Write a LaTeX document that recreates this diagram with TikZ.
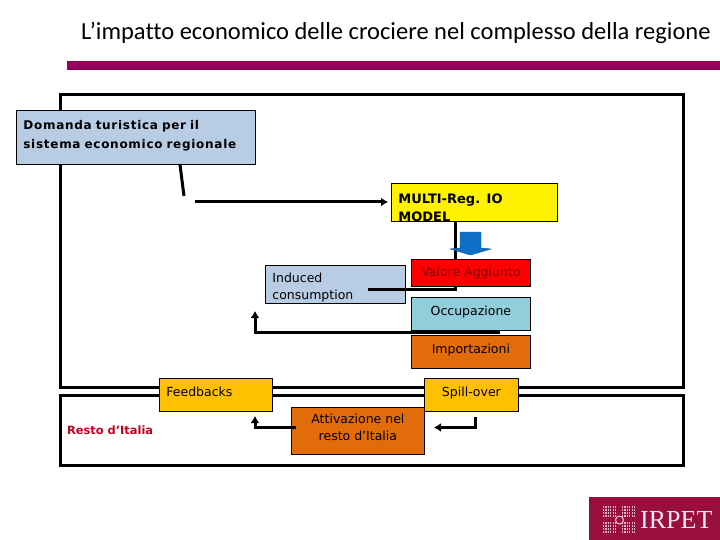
\documentclass[tikz,border=0pt]{standalone}
\usepackage{fontspec}
\setmainfont{DejaVu Sans}
\newfontfamily\titlefont[Ligatures=NoCommon]{Carlito}
\newfontfamily\logofont{Liberation Serif}
\usetikzlibrary{arrows.meta}
\definecolor{barcol}{HTML}{94005E}
\definecolor{logocol}{HTML}{980F3F}
\definecolor{paleblue}{HTML}{B8CCE4}
\definecolor{aquabox}{HTML}{92CDDC}
\definecolor{orangebox}{HTML}{E36C0A}
\definecolor{amberbox}{HTML}{FFC000}
\definecolor{arrowblue}{HTML}{0F6FC6}
\definecolor{restred}{HTML}{C00020}
\newcommand{\lift}[1]{\rule[-#1pt]{0pt}{#1pt}}
\tikzset{
  boxnode/.style={draw=black,line width=0.8pt,anchor=north west,inner sep=0pt,font=\fontsize{12.5}{17}\selectfont,align=center},
  leftbox/.style={boxnode,align=left,inner xsep=7pt},
  framebox/.style={draw=black,line width=3pt},
  link/.style={line width=3pt,draw=black},
  linkarrow/.style={link,-{Latex[length=7pt,width=9pt]}}
}
\begin{document}
\begin{tikzpicture}[x=1pt,y=-1pt]
    \useasboundingbox (0,0) rectangle (720,540);
    % title
    \node[font=\fontsize{24.5}{28}\titlefont,anchor=west,inner sep=0pt] (title) at (81,33)
      {L’impatto economico delle crociere nel complesso della regione};
    \fill[barcol] (67,61) rectangle (720,70);
    % frames
    \draw[framebox] (60,95) rectangle (683,387);
    \draw[framebox] (60,395) rectangle (683,465);
    % connectors under the boxes
    \coordinate (demandend) at (184,196);
    \coordinate (modelin) at (195,202);
    \coordinate (modelout) at (455.5,221);
    \coordinate (modelcorner) at (455.5,289);
    \coordinate (inducedend) at (368,289);
    % boxes
    \node[leftbox,fill=paleblue,text width=225pt,minimum height=54pt,
      font=\fontsize{12}{19}\selectfont\bfseries\addfontfeature{LetterSpace=6}] (demand) at (16,110)
      {Domanda turistica per il\\sistema economico regionale\lift{6}};
    \node[leftbox,fill=yellow,text width=152pt,minimum height=38pt,
      font=\fontsize{13}{18.5}\selectfont\bfseries] (model) at (391,183)
      {\raisebox{-10pt}[0pt][0pt]{MULTI-Reg. IO}\\\raisebox{-10pt}[0pt][0pt]{MODEL}};
    \node[leftbox,fill=paleblue,text width=126pt,minimum height=38pt] (induced) at (265,265)
      {\rule{0pt}{16pt}Induced\\consumption};
    \draw[link] (demand.south -| 180,164) -- (demandend);
    \draw[linkarrow,shorten >=3pt] (modelin) -- (model.west |- modelin);
    \draw[link] (modelout) -- (modelcorner) -- (inducedend);
    \node[boxnode,fill=red,text=red!50!black,minimum width=119pt,minimum height=27pt] (added) at (411,259) {Valore Aggiunto};
    \node[boxnode,fill=aquabox,minimum width=119pt,minimum height=33pt] (jobs) at (411,297) {Occupazione\lift{6}};
    \node[boxnode,fill=orangebox,minimum width=119pt,minimum height=33pt] (imports) at (411,335) {Importazioni\lift{6}};
    % blue arrow
    \draw[fill=arrowblue,draw=arrowblue!70!black,line width=0.4pt] (460,232) -- (481,232) -- (481,248) -- (491,249)
      -- (470.5,255) -- (450,249) -- (460,248) -- cycle;
    % feedback line
    \coordinate (importstart) at (500,332);
    \coordinate (feedcorner) at (255,332);
    \coordinate (feedtip) at (255,311);
    \draw[linkarrow] (importstart) -- (feedcorner) -- (feedtip);
    % lower frame
    \node[leftbox,fill=amberbox,text width=99pt,minimum height=33pt] (feedbacks) at (159,378)
      {Feedbacks\lift{6}};
    \node[boxnode,fill=amberbox,minimum width=94pt,minimum height=33pt] (spill) at (424,378) {Spill-over\lift{6}};
    \node[boxnode,fill=orangebox,minimum width=133pt,minimum height=47pt] (active) at (291,407)
      {Attivazione nel\\resto d’Italia\lift{8}};
    \node[font=\fontsize{11.4}{14}\selectfont\bfseries,text=restred,anchor=west,inner sep=0pt] (rest) at (67,430) {Resto d’Italia};
    \coordinate (leftstart) at (296,427.5);
    \coordinate (leftcorner) at (255,427.5);
    \coordinate (lefttip) at (255,416);
    \coordinate (rightstart) at (475,417);
    \coordinate (rightcorner) at (475,427.5);
    \coordinate (righttip) at (434,427.5);
    \draw[linkarrow] (leftstart) -- (leftcorner) -- (lefttip);
    \draw[linkarrow] (rightstart) -- (rightcorner) -- (righttip);
    % logo
    \fill[logocol] (589,497) rectangle (720,540);
    \foreach \ex/\ey in {603/506,622/506,603/522,622/522}{
      \draw[white!70!logocol,line width=2pt,dash pattern=on 1.2pt off 1.2pt] (\ex,\ey+1) -- (\ex+14,\ey+1)
        (\ex,\ey+4) -- (\ex+14,\ey+4) (\ex,\ey+7) -- (\ex+14,\ey+7) (\ex,\ey+10) -- (\ex+14,\ey+10);
    }
    \draw[white!80!logocol,line width=1pt,fill=logocol] (619.5,520) circle (4);
    \node[font=\fontsize{26}{28}\logofont,text=white!90!logocol,anchor=west,inner sep=0pt] (logo) at (640,520) {IRPET};
  \end{tikzpicture}
\end{document}
